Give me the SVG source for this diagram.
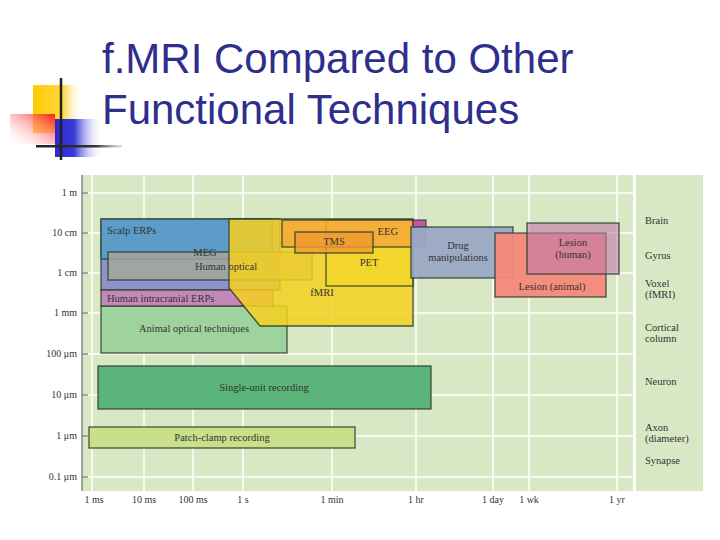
<svg xmlns="http://www.w3.org/2000/svg" width="720" height="540" viewBox="0 0 720 540">
<defs>
<linearGradient id="gy" x1="0" x2="1"><stop offset="0" stop-color="#ffcc00"/><stop offset="0.6" stop-color="#ffd640"/><stop offset="1" stop-color="#fff" stop-opacity="0"/></linearGradient>
<linearGradient id="gr" x1="1" x2="0" y1="0" y2="1"><stop offset="0" stop-color="#ff1a1a"/><stop offset="1" stop-color="#fff" stop-opacity="0.1"/></linearGradient>
<linearGradient id="gb" x1="0" x2="1"><stop offset="0" stop-color="#2a2ad0"/><stop offset="0.4" stop-color="#3a3ad8"/><stop offset="1" stop-color="#fff" stop-opacity="0"/></linearGradient>
<linearGradient id="gl" x1="0" x2="1"><stop offset="0" stop-color="#222"/><stop offset="0.7" stop-color="#333"/><stop offset="1" stop-color="#999" stop-opacity="0.3"/></linearGradient>
<style>
.t{font-family:"Liberation Serif",serif;font-size:10.5px;fill:#333}
.ax{font-family:"Liberation Serif",serif;font-size:10px;fill:#333}
.r{stroke:#2a3a2a;stroke-width:1.3;stroke-opacity:0.85}
.g{stroke:#fff;stroke-width:1.5}
</style>
</defs>
<rect width="720" height="540" fill="#fff"/>
<g id="logo">
<rect x="33" y="85" width="50" height="48" fill="url(#gy)"/>
<rect x="55" y="119" width="48" height="38" fill="url(#gb)"/>
<rect x="10" y="114" width="45" height="30" fill="url(#gr)"/>
<line x1="61" y1="78" x2="61" y2="160" stroke="#222" stroke-width="2.5"/>
<rect x="36" y="145" width="86" height="2.5" fill="url(#gl)"/>
</g>
<g id="title" font-family="Liberation Sans,Arial,sans-serif" font-size="42" fill="#2e2e8c">
<text x="102" y="73">f.MRI Compared to Other</text>
<text x="102" y="124">Functional Techniques</text>
</g>
<g id="chart">
<rect x="82" y="175" width="551" height="316" fill="#d9e8c4"/>
<rect x="636" y="175" width="67" height="316" fill="#d9e8c4"/>
<g class="g">
<line x1="92" y1="175" x2="92" y2="491"/><line x1="144" y1="175" x2="144" y2="491"/><line x1="193" y1="175" x2="193" y2="491"/><line x1="243" y1="175" x2="243" y2="491"/><line x1="332" y1="175" x2="332" y2="491"/><line x1="416" y1="175" x2="416" y2="491"/><line x1="493" y1="175" x2="493" y2="491"/><line x1="529" y1="175" x2="529" y2="491"/><line x1="617" y1="175" x2="617" y2="491"/>
<line x1="82" y1="193" x2="633" y2="193"/><line x1="82" y1="233" x2="633" y2="233"/><line x1="82" y1="273" x2="633" y2="273"/><line x1="82" y1="313" x2="633" y2="313"/><line x1="82" y1="354" x2="633" y2="354"/><line x1="82" y1="395" x2="633" y2="395"/><line x1="82" y1="436" x2="633" y2="436"/><line x1="82" y1="477" x2="633" y2="477"/>
</g>
<g stroke="#555" stroke-width="1">
<line x1="82" y1="175" x2="82" y2="491"/>
<line x1="82" y1="193" x2="88" y2="193"/><line x1="82" y1="233" x2="88" y2="233"/><line x1="82" y1="273" x2="88" y2="273"/><line x1="82" y1="313" x2="88" y2="313"/><line x1="82" y1="354" x2="88" y2="354"/><line x1="82" y1="395" x2="88" y2="395"/><line x1="82" y1="436" x2="88" y2="436"/><line x1="82" y1="477" x2="88" y2="477"/>
</g>
<g class="ax" text-anchor="end">
<text x="77" y="196">1 m</text><text x="77" y="236">10 cm</text><text x="77" y="276">1 cm</text><text x="77" y="316">1 mm</text><text x="77" y="357">100 μm</text><text x="77" y="398">10 μm</text><text x="77" y="439">1 μm</text><text x="77" y="480">0.1 μm</text>
</g>
<g class="ax" text-anchor="middle">
<text x="94" y="503">1 ms</text><text x="144" y="503">10 ms</text><text x="193" y="503">100 ms</text><text x="243" y="503">1 s</text><text x="332" y="503">1 min</text><text x="416" y="503">1 hr</text><text x="493" y="503">1 day</text><text x="529" y="503">1 wk</text><text x="617" y="503">1 yr</text>
</g>
<g class="t" text-anchor="start">
<text x="645" y="224">Brain</text><text x="645" y="259">Gyrus</text><text x="645" y="287">Voxel</text><text x="645" y="298">(fMRI)</text><text x="645" y="331">Cortical</text><text x="645" y="342">column</text><text x="645" y="385">Neuron</text><text x="645" y="431">Axon</text><text x="645" y="442">(diameter)</text><text x="645" y="464">Synapse</text>
</g>
</g>
<g id="techniques">
<g id="patch"><rect class="r" x="89" y="427" width="266" height="21" fill="#c9df8a"/><text class="t" x="222" y="441" text-anchor="middle">Patch-clamp recording</text></g>
<g id="single"><rect class="r" x="98" y="366" width="333" height="43" fill="#5bb57a"/><text class="t" x="264" y="391" text-anchor="middle">Single-unit recording</text></g>
<g id="animal-optical"><rect class="r" x="101" y="306" width="186" height="47" fill="#9fd39d"/></g>
<g id="meg"><rect class="r" x="101" y="219" width="179" height="71" fill="#8c94c8"/></g>
<g id="intracranial"><rect class="r" x="101" y="290" width="172" height="16" fill="#c488b8"/></g>
<g id="scalp"><rect class="r" x="101" y="219" width="171" height="40" fill="#5d9cc8"/><text class="t" x="107" y="234">Scalp ERPs</text></g>
<g id="human-optical"><rect class="r" x="108" y="252" width="204" height="28" fill="#a8a898" fill-opacity="0.8"/></g>
<g id="fmri"><polygon class="r" points="229,219 413,219 413,326 260,326 229,288" fill="#f5d020" fill-opacity="0.85"/><text class="t" x="322" y="296" text-anchor="middle">fMRI</text></g>
<g id="pet"><rect class="r" x="326" y="220" width="87" height="66" fill="#f5d820" fill-opacity="0.5"/><text class="t" x="369" y="266" text-anchor="middle">PET</text></g>
<g id="eeg"><rect class="r" x="282" y="220" width="131" height="27" fill="#f5a838" fill-opacity="0.85"/><rect x="413" y="220" width="13" height="27" fill="#c058a8" stroke="#2a3a2a" stroke-width="1"/><text class="t" x="398" y="235" text-anchor="end">EEG</text></g>
<g id="tms"><rect class="r" x="295" y="232" width="78" height="21" fill="#f09a30" fill-opacity="0.8"/><text class="t" x="334" y="245" text-anchor="middle">TMS</text></g>
<text class="t" x="205" y="256" text-anchor="middle">MEG</text>
<text class="t" x="226" y="270" text-anchor="middle">Human optical</text>
<text class="t" x="107" y="302">Human intracranial ERPs</text>
<text class="t" x="194" y="332" text-anchor="middle">Animal optical techniques</text>
<g id="drug"><rect class="r" x="411" y="227" width="102" height="51" fill="#9aa9c4" fill-opacity="0.95"/><text class="t" x="458" y="249" text-anchor="middle">Drug</text><text class="t" x="458" y="261" text-anchor="middle">manipulations</text></g>
<g id="lesion-animal"><rect class="r" x="495" y="233" width="111" height="64" fill="#f4897a" fill-opacity="0.95"/><text class="t" x="552" y="290" text-anchor="middle">Lesion (animal)</text></g>
<g id="lesion-human"><rect class="r" x="527" y="223" width="92" height="51" fill="#c07aa8" fill-opacity="0.6"/><text class="t" x="573" y="246" text-anchor="middle">Lesion</text><text class="t" x="573" y="258" text-anchor="middle">(human)</text></g>
</g>
<g id="connectors"/>
</svg>
